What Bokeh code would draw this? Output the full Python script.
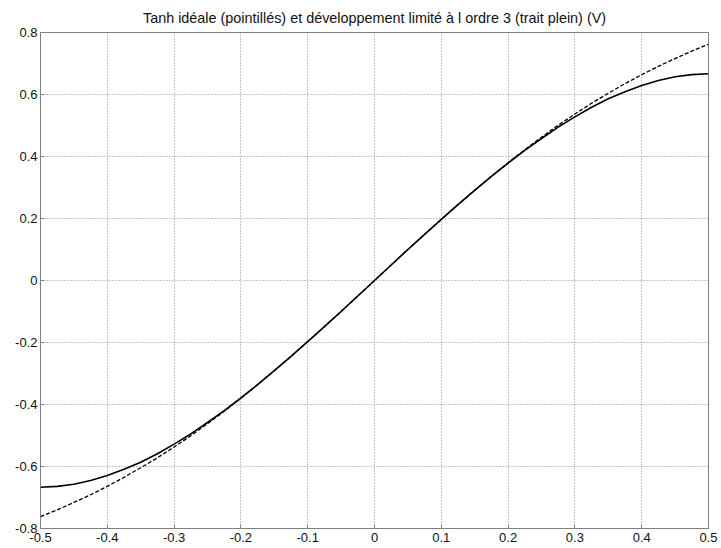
from bokeh.plotting import figure
from bokeh.models import FixedTicker, Range1d
from bokeh.embed import file_html
from bokeh.resources import INLINE

x_vals = [-0.5, -0.475, -0.45, -0.425, -0.4, -0.375, -0.35, -0.325, -0.3, -0.275,
          -0.25, -0.225, -0.2, -0.175, -0.15, -0.125, -0.1, -0.075, -0.05, -0.025,
          0.0, 0.025, 0.05, 0.075, 0.1, 0.125, 0.15, 0.175, 0.2, 0.225,
          0.25, 0.275, 0.3, 0.325, 0.35, 0.375, 0.4, 0.425, 0.45, 0.475, 0.5]

tanh_ideal = [-0.762, -0.740, -0.716, -0.691, -0.664, -0.635, -0.604, -0.572, -0.537, -0.501,
              -0.462, -0.422, -0.380, -0.336, -0.291, -0.245, -0.197, -0.149, -0.100, -0.050,
              0.0, 0.050, 0.100, 0.149, 0.197, 0.245, 0.291, 0.336, 0.380, 0.422,
              0.462, 0.501, 0.537, 0.572, 0.604, 0.635, 0.664, 0.691, 0.716, 0.740, 0.762]

dl_ordre3 = [-0.667, -0.664, -0.657, -0.645, -0.629, -0.609, -0.586, -0.559, -0.528, -0.495,
             -0.458, -0.420, -0.379, -0.336, -0.291, -0.245, -0.197, -0.149, -0.100, -0.050,
             0.0, 0.050, 0.100, 0.149, 0.197, 0.245, 0.291, 0.336, 0.379, 0.420,
             0.458, 0.495, 0.528, 0.559, 0.586, 0.609, 0.629, 0.645, 0.657, 0.664, 0.667]

x_ticks = [-0.5, -0.4, -0.3, -0.2, -0.1, 0, 0.1, 0.2, 0.3, 0.4, 0.5]
x_labels = ["-0.5", "-0.4", "-0.3", "-0.2", "-0.1", "0", "0.1", "0.2", "0.3", "0.4", "0.5"]
y_ticks = [-0.8, -0.6, -0.4, -0.2, 0, 0.2, 0.4, 0.6, 0.8]
y_labels = ["-0.8", "-0.6", "-0.4", "-0.2", "0", "0.2", "0.4", "0.6", "0.8"]

title_text = "Tanh idéale (pointillés) et développement limité à l ordre 3 (trait plein) (V)"

p = figure(width=721, height=548, output_backend="svg", toolbar_location=None,
           x_range=Range1d(-0.5, 0.5), y_range=Range1d(-0.8, 0.8),
           title=title_text, min_border_left=40, min_border_right=13,
           min_border_top=32, min_border_bottom=20)

p.title.align = "center"
p.title.text_font = "Liberation Sans"
p.title.text_font_size = "14.4px"
p.title.text_font_style = "normal"
p.title.text_color = "#111111"
p.title.standoff = 14

p.background_fill_color = "white"
p.border_fill_color = "white"
p.outline_line_color = "#808080"
p.outline_line_width = 1

for ax, ticks, labels in ((p.xaxis[0], x_ticks, x_labels), (p.yaxis[0], y_ticks, y_labels)):
    ax.ticker = FixedTicker(ticks=ticks)
    ax.major_label_overrides = {t: l for t, l in zip(ticks, labels)}
    ax.axis_line_color = None
    ax.major_tick_in = 4
    ax.major_tick_out = 0
    ax.major_tick_line_color = "#808080"
    ax.minor_tick_line_color = None
    ax.major_label_text_font = "Liberation Sans"
    ax.major_label_text_font_size = "13px"
    ax.major_label_text_color = "#111111"

p.xaxis[0].major_label_standoff = 4
p.yaxis[0].major_label_standoff = 3

p.xgrid.ticker = FixedTicker(ticks=x_ticks)
p.ygrid.ticker = FixedTicker(ticks=y_ticks)
for g in (p.xgrid[0], p.ygrid[0]):
    g.grid_line_color = "#8c8c8c"
    g.grid_line_dash = "1 2"
    g.grid_line_width = 1

p.line(x_vals, tanh_ideal, line_color="black", line_width=1.3, line_dash="4 2")
p.line(x_vals, dl_ordre3, line_color="black", line_width=1.6)

open("out.html", "w").write(file_html(p, INLINE))
